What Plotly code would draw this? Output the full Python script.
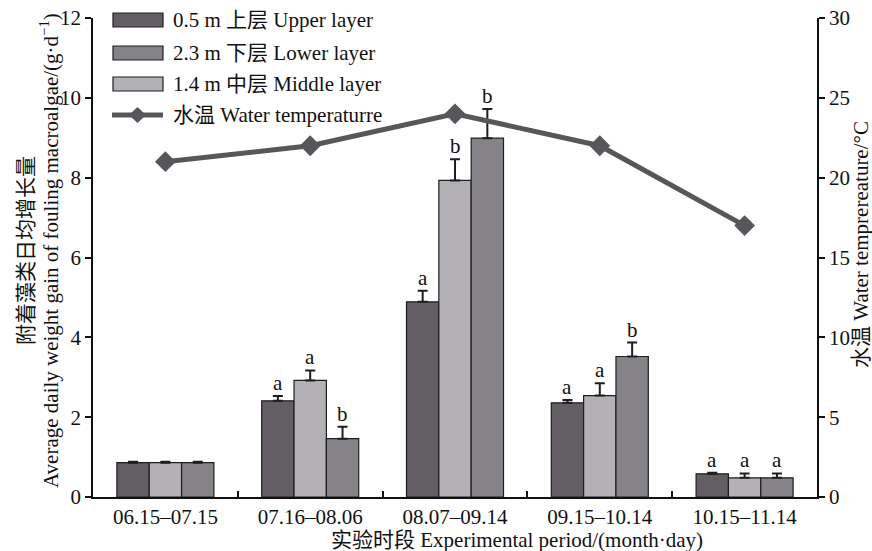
import plotly.graph_objects as go

# Sampling periods (month.day)
periods = ["06.15–07.15", "07.16–08.06", "08.07–09.14", "09.15–10.14", "10.15–11.14"]

# Average daily weight gain of fouling macroalgae, g·d⁻¹
upper_gain = [0.86, 2.41, 4.89, 2.36, 0.58]
upper_err = [0.02, 0.12, 0.28, 0.07, 0.03]
middle_gain = [0.86, 2.92, 7.93, 2.54, 0.48]
middle_err = [0.02, 0.25, 0.53, 0.31, 0.11]
lower_gain = [0.86, 1.46, 8.99, 3.52, 0.48]
lower_err = [0.02, 0.30, 0.73, 0.35, 0.11]

# Significance letters (blank = none)
upper_sig = ["", "a", "a", "a", "a"]
middle_sig = ["", "a", "b", "a", "a"]
lower_sig = ["", "b", "b", "b", "a"]

# Water temperature, °C
water_temp = [21, 22, 24, 22, 17]

C_UPPER = "#625e63"
C_MIDDLE = "#b3b1b6"
C_LOWER = "#858387"
C_LINE = "#58565a"
INK = "#111111"
SERIF = '"Liberation Serif", "Noto Sans CJK SC", serif'
FS = 21

BARGAP = 0.33
BAR_W = (1 - BARGAP) / 3

x = list(range(len(periods)))

fig = go.Figure()

series = [
    ("0.5 m 上层 Upper layer", upper_gain, upper_err, upper_sig, C_UPPER),
    ("1.4 m 中层 Middle layer", middle_gain, middle_err, middle_sig, C_MIDDLE),
    ("2.3 m 下层 Lower layer", lower_gain, lower_err, lower_sig, C_LOWER),
]

for name, vals, errs, _, col in series:
    fig.add_trace(go.Bar(
        x=x, y=vals, name=name, showlegend=False,
        marker=dict(color=col, line=dict(color="#1e1e1e", width=1.2)),
        error_y=dict(type="data", symmetric=False, array=errs,
                     arrayminus=[0] * len(errs), color="#1e1e1e",
                     thickness=2, width=5),
    ))

fig.add_trace(go.Scatter(
    x=x, y=water_temp, yaxis="y2", mode="lines+markers", showlegend=False,
    name="水温 Water temperaturre",
    line=dict(color=C_LINE, width=5),
    marker=dict(symbol="diamond", size=16, color=C_LINE),
))

# significance letters above error bars
for j, (_, vals, errs, sigs, _) in enumerate(series):
    for i in x:
        if sigs[i]:
            fig.add_annotation(
                x=i + (j - 1) * BAR_W, y=vals[i] + errs[i],
                text=sigs[i], showarrow=False, yanchor="bottom", yshift=-1,
                font=dict(family=SERIF, size=FS, color=INK),
            )

# plot-area frame in pixels, used for legend and title placement
L, R, T, B = 93, 817, 18, 497


def px(xp):
    return (xp - L) / (R - L)


def py(yp):
    return (B - yp) / (B - T)


def label(text, xp, yp, angle=0, xanchor="center"):
    fig.add_annotation(xref="paper", yref="paper", x=px(xp), y=py(yp),
                       text=text, showarrow=False, textangle=angle,
                       xanchor=xanchor, yanchor="middle",
                       font=dict(family=SERIF, size=FS, color=INK))


legend_items = [
    ("0.5 m 上层 Upper layer", C_UPPER, 20),
    ("2.3 m 下层 Lower layer", C_LOWER, 53),
    ("1.4 m 中层 Middle layer", C_MIDDLE, 84),
]
for text, col, yc in legend_items:
    fig.add_shape(type="rect", xref="paper", yref="paper",
                  x0=px(113), x1=px(163), y0=py(yc + 7), y1=py(yc - 7),
                  fillcolor=col, line=dict(color="#1e1e1e", width=1.2))
    label(text, 171, yc, xanchor="left")

fig.add_shape(type="line", xref="paper", yref="paper",
              x0=px(112), x1=px(163), y0=py(115), y1=py(115),
              line=dict(color=C_LINE, width=5))
fig.add_shape(type="path", xref="paper", yref="paper",
              path=f"M {px(129)} {py(115)} L {px(137.5)} {py(107)} L {px(146)} {py(115)} L {px(137.5)} {py(123)} Z",
              fillcolor=C_LINE, line=dict(color=C_LINE, width=0))
label("水温 Water temperaturre", 171, 115, xanchor="left")

# axis titles
label("实验时段 Experimental period/(month·day)", 517, 540)
label("附着藻类日均增长量", 26, 251, angle=-90)
label("Average daily weight gain of fouling macroalgae/(g·d<sup>−1</sup>)", 49, 251, angle=-90)
label("水温 Water temprereature/°C", 861, 245, angle=-90)

axis_common = dict(showline=True, linecolor=INK, linewidth=1.8,
                   showgrid=False, zeroline=False, automargin=False,
                   tickfont=dict(family=SERIF, size=FS, color=INK))

fig.update_layout(
    width=872, height=551,
    margin=dict(l=L, r=872 - R, t=T, b=551 - B, autoexpand=False),
    paper_bgcolor="white", plot_bgcolor="white",
    barmode="group", bargap=BARGAP, bargroupgap=0,
    showlegend=False,
    font=dict(family=SERIF, size=FS, color=INK),
    xaxis=dict(
        **axis_common,
        range=[-0.5, 4.5], tickmode="array", tickvals=x, ticktext=periods,
        ticks="", ticklen=0,
        minor=dict(tickmode="array", tickvals=[0.5, 1.5, 2.5, 3.5],
                   ticks="inside", ticklen=6, tickwidth=1.8, tickcolor=INK),
    ),
    yaxis=dict(
        **axis_common,
        range=[0, 12], dtick=2, ticks="outside", ticklen=6, tickwidth=1.8,
        tickcolor=INK,
    ),
    yaxis2=dict(
        **axis_common,
        overlaying="y", side="right", range=[0, 30], dtick=5,
        ticks="outside", ticklen=6, tickwidth=1.8, tickcolor=INK,
    ),
)

fig.write_html("out.html")
